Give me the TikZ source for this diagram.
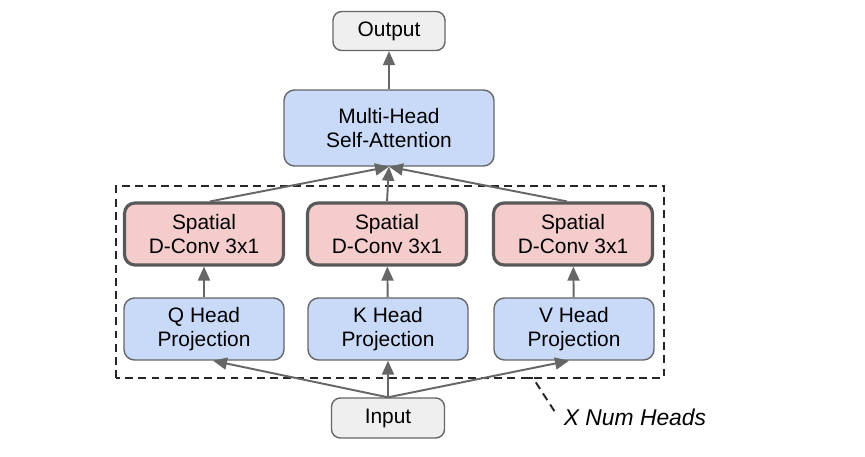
\documentclass[tikz,border=0pt]{standalone}
\usepackage{fontspec}
\setmainfont{Liberation Sans}
\definecolor{headblue}{HTML}{C9DAF8}
\definecolor{convpink}{HTML}{F4CCCC}
\definecolor{iogray}{HTML}{EFEFEF}
\definecolor{edgegray}{HTML}{666666}
\definecolor{darkedge}{HTML}{595959}
\usetikzlibrary{arrows.meta, positioning}

\begin{document}
\begin{tikzpicture}[font=\fontsize{11.9}{13.6}\selectfont,
  iobox/.style={draw=edgegray, fill=iogray, rounded corners=5pt, line width=0.8pt, minimum width=2.24cm, minimum height=0.78cm, align=center},
  headbox/.style={draw=edgegray, fill=headblue, rounded corners=6pt, line width=0.8pt, minimum width=3.2cm, minimum height=1.24cm, align=center},
  convbox/.style={draw=darkedge, fill=convpink, rounded corners=6pt, line width=1.8pt, minimum width=3.18cm, minimum height=1.24cm, align=center},
  flow/.style={-{Triangle[length=2.8mm, width=2.4mm]}, edgegray, line width=1.1pt}]
  \useasboundingbox (0,0) rectangle (17.3,9.12);
  % blocks
  \node[iobox] (out) at (7.78,8.5) {Output};
  \node[headbox, minimum width=4.2cm, minimum height=1.52cm] (mhsa) at (7.78,6.56) {Multi-Head\\Self-Attention};
  \node[convbox] (convq) at (4.08,4.44) {Spatial\\D-Conv 3x1};
  \node[convbox] (convk) at (7.74,4.44) {Spatial\\D-Conv 3x1};
  \node[convbox] (convv) at (11.46,4.44) {Spatial\\D-Conv 3x1};
  \node[headbox] (projq) at (4.08,2.54) {Q Head\\Projection};
  \node[headbox] (projk) at (7.76,2.54) {K Head\\Projection};
  \node[headbox] (projv) at (11.48,2.54) {V Head\\Projection};
  \node[iobox, minimum width=2.26cm, minimum height=0.8cm] (in) at (7.76,0.76) {Input};
  % repeated heads
  \draw[black!85, line width=1.1pt, dash pattern=on 4.5pt off 3pt] (2.32,1.56) rectangle (13.28,5.4);
  \coordinate (lead) at (10.5,1.56);
  \node[font=\fontsize{13}{15}\selectfont\itshape] (nheads) at (12.7,0.78) {X Num Heads};
  \draw[black!85, line width=1.1pt, dash pattern=on 4.5pt off 3pt] (lead) -- (10.66,1.56) -- ([xshift=-1pt, yshift=2pt]nheads.west);
  % connectors
  \draw[flow] (in.north) -- ([xshift=0.18cm]projq.south);
  \draw[flow] (in.north) -- (projk.south);
  \draw[flow] (in.north) -- ([xshift=-0.1cm]projv.south);
  \draw[flow] (projq) -- (convq);
  \draw[flow] (projk) -- (convk);
  \draw[flow] (projv) -- (convv);
  \draw[flow] ([xshift=0.12cm]convq.north) -- (mhsa.south);
  \draw[flow] (convk.north) -- (mhsa.south);
  \draw[flow] ([xshift=-0.12cm]convv.north) -- (mhsa.south);
  \draw[flow] (mhsa) -- (out);
\end{tikzpicture}
\end{document}
